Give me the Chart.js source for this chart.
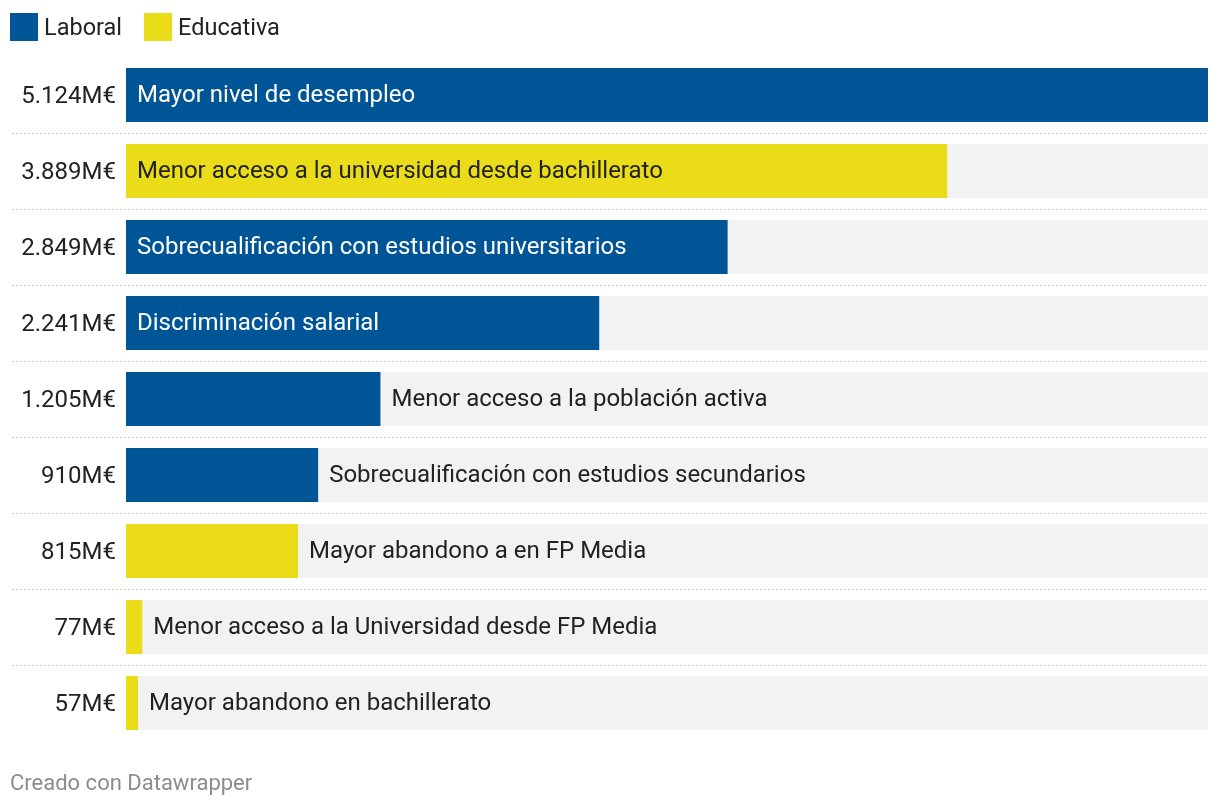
<!DOCTYPE html>
<html>
<head>
<meta charset="utf-8">
<script src="https://cdn.jsdelivr.net/npm/chart.js@4"></script>
<style>
  html, body { margin: 0; padding: 0; background: #fff; }
  body { width: 1220px; height: 808px; position: relative; overflow: hidden; font-family: Roboto, sans-serif; }
  #wrap { position: absolute; left: 0; top: 0; width: 1220px; height: 808px; }
  .legend { position: absolute; left: 10px; top: 12px; height: 30px; display: flex; align-items: center; font-size: 23.5px; color: #222; }
  .legend span.sw { display: inline-block; width: 28px; height: 28px; margin-right: 6px; }
  .legend span.lb { margin-right: 22px; }
  .footer { position: absolute; left: 10px; top: 770px; font-size: 22px; color: #8c8c8c; }
</style>
</head>
<body>
<div id="wrap"><canvas id="chart" width="1220" height="808"></canvas></div>
<div class="legend" id="legend"></div>
<div class="footer">Creado con Datawrapper</div>
<script>
const categories = [
    'Mayor nivel de desempleo',
    'Menor acceso a la universidad desde bachillerato',
    'Sobrecualificación con estudios universitarios',
    'Discriminación salarial',
    'Menor acceso a la población activa',
    'Sobrecualificación con estudios secundarios',
    'Mayor abandono a en FP Media',
    'Menor acceso a la Universidad desde FP Media',
    'Mayor abandono en bachillerato'
];
const values = [5124, 3889, 2849, 2241, 1205, 910, 815, 77, 57];
const groups = ['Laboral', 'Educativa', 'Laboral', 'Laboral', 'Laboral', 'Laboral', 'Educativa', 'Educativa', 'Educativa'];
const groupNames = ['Laboral', 'Educativa'];
const groupColors = { Laboral: '#005596', Educativa: '#ebdc1a' };

const fmt = v => String(v).replace(/\B(?=(\d{3})+(?!\d))/g, '.') + 'M€';

// html legend
const legend = document.getElementById('legend');
groupNames.forEach(g => {
    legend.insertAdjacentHTML('beforeend',
        `<span class="sw" style="background:${groupColors[g]}"></span><span class="lb">${g}</span>`);
});

const FONT = '24px Roboto, sans-serif';

const rowsPlugin = {
    id: 'rows',
    beforeDatasetsDraw(chart) {
        const { ctx, chartArea, scales } = chart;
        const meta = chart.getDatasetMeta(0);
        ctx.save();
        meta.data.forEach((bar, i) => {
            const h = bar.height;
            ctx.fillStyle = '#f2f2f2';
            ctx.fillRect(chartArea.left, bar.y - h / 2, chartArea.right - chartArea.left, h);
            if (i < meta.data.length - 1) {
                const yy = Math.round((scales.y.getPixelForValue(i) + scales.y.getPixelForValue(i + 1)) / 2) + 0.5;
                ctx.strokeStyle = '#c8c8c8';
                ctx.lineWidth = 1;
                ctx.setLineDash([2, 2]);
                ctx.beginPath();
                ctx.moveTo(12, yy);
                ctx.lineTo(chartArea.right, yy);
                ctx.stroke();
            }
        });
        ctx.restore();
    },
    afterDatasetsDraw(chart) {
        const { ctx, chartArea } = chart;
        const meta = chart.getDatasetMeta(0);
        ctx.save();
        ctx.font = FONT;
        ctx.textBaseline = 'middle';
        meta.data.forEach((bar, i) => {
            // value label on the left
            ctx.fillStyle = '#222';
            ctx.textAlign = 'right';
            ctx.fillText(fmt(values[i]), chartArea.left - 10, bar.y + 2);
            // category label
            ctx.textAlign = 'left';
            const w = ctx.measureText(categories[i]).width;
            const barW = bar.x - chartArea.left;
            const ty = bar.y + 1;
            if (w + 22 <= barW) {
                ctx.fillStyle = groups[i] === 'Laboral' ? '#ffffff' : '#222';
                ctx.fillText(categories[i], chartArea.left + 11, ty);
            } else {
                ctx.fillStyle = '#222';
                ctx.fillText(categories[i], bar.x + 11, ty);
            }
        });
        ctx.restore();
    }
};

new Chart(document.getElementById('chart').getContext('2d'), {
    type: 'bar',
    data: {
        labels: categories,
        datasets: [{
            data: values,
            backgroundColor: groups.map(g => groupColors[g]),
            borderWidth: 0,
            barPercentage: 1,
            categoryPercentage: 54 / 76
        }]
    },
    options: {
        indexAxis: 'y',
        responsive: false,
        animation: false,
        layout: { padding: { left: 126, right: 12, top: 57, bottom: 67 } },
        scales: {
            x: { display: false, min: 0, max: 5124 },
            y: { display: false }
        },
        plugins: {
            legend: { display: false },
            tooltip: { enabled: false }
        }
    },
    plugins: [rowsPlugin]
});
</script>
</body>
</html>
